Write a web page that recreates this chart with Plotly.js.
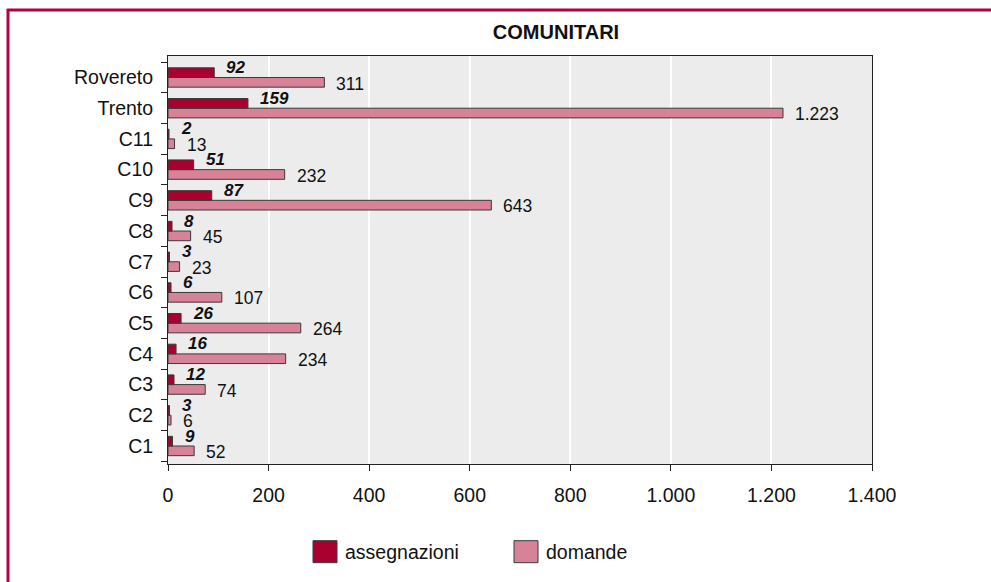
<!DOCTYPE html>
<html>
<head>
<meta charset="utf-8">
<script src="https://cdn.plot.ly/plotly-3.0.1.min.js"></script>
<style>
html,body{margin:0;padding:0;background:#fff;}
#chart{width:991px;height:582px;}
</style>
</head>
<body>
<div id="chart"></div>
<script>
const categorie = ['C1','C2','C3','C4','C5','C6','C7','C8','C9','C10','C11','Trento','Rovereto'];
const assegnazioni = [9, 3, 12, 16, 26, 6, 3, 8, 87, 51, 2, 159, 92];
const domande = [52, 6, 74, 234, 264, 107, 23, 45, 643, 232, 13, 1223, 311];
const xTicks = [0, 200, 400, 600, 800, 1000, 1200, 1400];

const COL_ASS = '#a8002f';
const COL_DOM = '#d78296';
const FONT = 'Liberation Sans, Arial, Helvetica, sans-serif';

function fmt(v){ return String(v).replace(/\B(?=(\d{3})+(?!\d))/g, '.'); }

const traces = [
  {type:'bar', orientation:'h', name:'domande', y:categorie, x:domande,
   marker:{color:COL_DOM, line:{color:'#3a3a3a', width:1}}, legendrank:2, hoverinfo:'x+y'},
  {type:'bar', orientation:'h', name:'assegnazioni', y:categorie, x:assegnazioni,
   marker:{color:COL_ASS, line:{color:'#3a3a3a', width:1}}, legendrank:1, hoverinfo:'x+y'}
];

const annotations = [];
categorie.forEach((c,i)=>{
  annotations.push({x:assegnazioni[i], y:c, xref:'x', yref:'y', text:fmt(assegnazioni[i]),
    showarrow:false, xanchor:'left', yanchor:'middle', xshift:10, yshift:10,
    font:{family:FONT, size:17, color:'#111', weight:'bold', style:'italic'}});
  annotations.push({x:domande[i], y:c, xref:'x', yref:'y', text:fmt(domande[i]),
    showarrow:false, xanchor:'left', yanchor:'middle', xshift:10, yshift:-6,
    font:{family:FONT, size:17.5, color:'#111'}});
});

const L=168, R=872, T=56, B=464;
const px = v => (v - L)/(R - L);
const py = v => (B - v)/(B - T);

const layout = {
  width:991, height:582,
  margin:{l:L, r:991-R, t:T, b:582-B, pad:0, autoexpand:false},
  paper_bgcolor:'#ffffff',
  plot_bgcolor:'#ebeceb',
  separators:',.',
  barmode:'group',
  bargap:0.37,
  bargroupgap:0,
  font:{family:FONT, size:19, color:'#111'},
  title:{text:'<b>COMUNITARI</b>', x:px(556), xref:'paper', xanchor:'center',
         y:1-31.5/582, yref:'container', yanchor:'middle',
         font:{family:FONT, size:20, color:'#111'}},
  xaxis:{range:[0,1400], tickvals:xTicks, ticktext:xTicks.map(fmt),
         showgrid:true, gridcolor:'#ffffff', gridwidth:2, zeroline:false,
         showline:true, linecolor:'#222', linewidth:1, mirror:true, automargin:false,
         ticks:'outside', ticklen:6, tickcolor:'#222', ticklabelstandoff:8,
         tickfont:{family:FONT, size:19.5, color:'#111'}, fixedrange:true},
  yaxis:{type:'category', categoryorder:'array', categoryarray:categorie,
         showgrid:false, zeroline:false, automargin:false,
         showline:true, linecolor:'#222', linewidth:1, mirror:true,
         ticks:'outside', ticklen:6, tickcolor:'#222', tickson:'boundaries',
         ticklabelstandoff:10,
         tickfont:{family:FONT, size:19.5, color:'#111'}, fixedrange:true},
  showlegend:true,
  legend:{orientation:'h', x:px(305), xanchor:'left', y:py(552), yanchor:'middle',
          font:{family:FONT, size:19.5, color:'#111'}, bgcolor:'rgba(0,0,0,0)',
          itemwidth:30, traceorder:'normal', entrywidth:156},
  annotations:annotations,
  shapes:[
    {type:'line', xref:'paper', yref:'paper', x0:px(7), x1:px(991), y0:py(10), y1:py(10),
     line:{color:'#b8003a', width:3}},
    {type:'line', xref:'paper', yref:'paper', x0:px(8), x1:px(8), y0:py(9), y1:py(582),
     line:{color:'#b8003a', width:3}}
  ]
};

Plotly.newPlot('chart', traces, layout, {displayModeBar:false, staticPlot:true}).then(gd=>{
  // enlarge legend swatches to match the reference's larger boxes
  gd.querySelectorAll('.legend .legendpoints path').forEach(p=>{
    p.setAttribute('d','M12,11H-12V-11H12Z');
  });
});
</script>
</body>
</html>
